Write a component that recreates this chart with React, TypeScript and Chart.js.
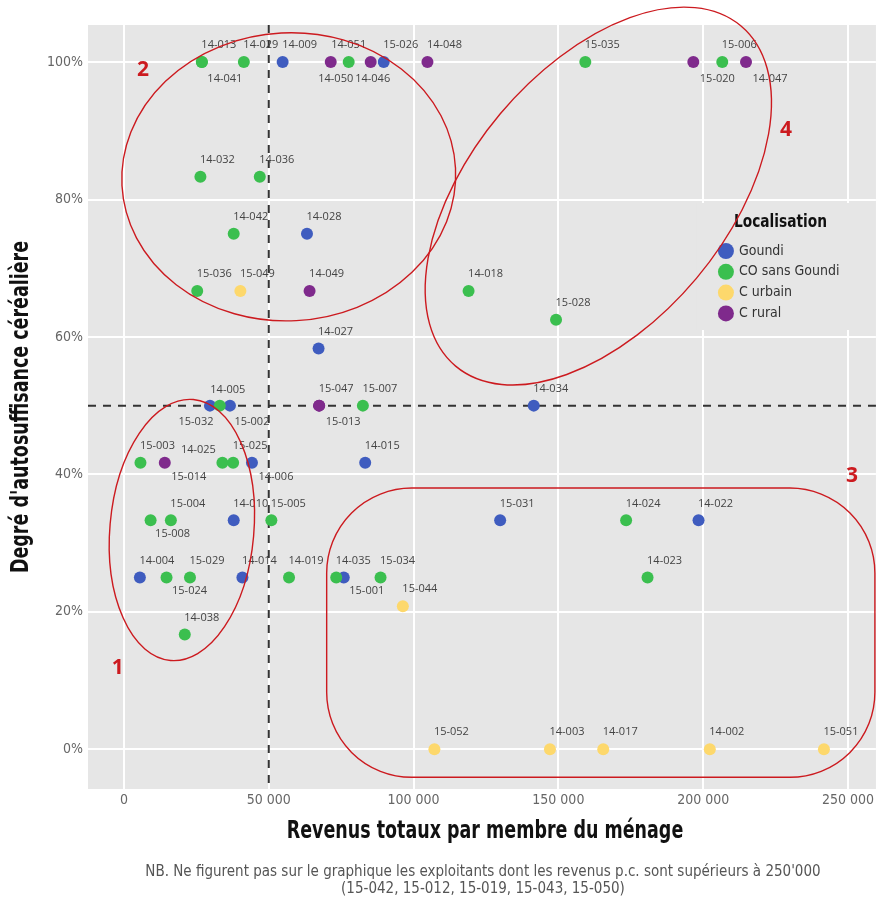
import { useEffect, useRef } from 'react';
import { Chart, registerables } from 'chart.js';

Chart.register(...registerables);

// Localisation groups and their colours
const groupNames = ['Goundi', 'CO sans Goundi', 'C urbain', 'C rural'];
const groupColors = ['#3f5cbf', '#3bbf4f', '#fdd86c', '#7f2a8c'];

// Goundi
const goundiIds = ['14-009', '15-026', '14-028', '14-027', '14-034', '15-032', '15-002', '14-006', '14-015', '14-010', '15-031', '14-022', '14-004', '14-014', '15-001'];
const goundiIncome = [54800, 89700, 63200, 67200, 141500, 29700, 36600, 44200, 83300, 37900, 129900, 198400, 5500, 40900, 75900];
const goundiShare = [100, 100, 75, 58.3, 50, 50, 50, 41.7, 41.7, 33.3, 33.3, 33.3, 25, 25, 25];

// CO sans Goundi
const coIds = ['14-013', '14-041', '14-029', '14-051', '15-035', '15-006', '14-032', '14-036', '14-042', '15-036', '14-018', '15-028', '14-005', '15-007', '15-003', '14-025', '15-025', '15-008', '15-004', '15-005', '14-024', '15-024', '15-029', '14-019', '14-035', '15-034', '14-023', '14-038'];
const coIncome = [26900, 26900, 41400, 77600, 159300, 206600, 26400, 46900, 37900, 25300, 119000, 149200, 33100, 82500, 5700, 34000, 37700, 9200, 16200, 50900, 173400, 14700, 22800, 57000, 73300, 88600, 180800, 21000];
const coShare = [100, 100, 100, 100, 100, 100, 83.3, 83.3, 75, 66.7, 66.7, 62.5, 50, 50, 41.7, 41.7, 41.7, 33.3, 33.3, 33.3, 33.3, 25, 25, 25, 25, 25, 25, 16.7];

// C urbain
const urbainIds = ['15-049', '15-044', '15-052', '14-003', '14-017', '14-002', '15-051'];
const urbainIncome = [40200, 96300, 107200, 147100, 165500, 202300, 241700];
const urbainShare = [66.7, 20.8, 0, 0, 0, 0, 0];

// C rural
const ruralIds = ['14-050', '14-046', '14-048', '15-020', '14-047', '14-049', '15-013', '15-047', '15-014'];
const ruralIncome = [71400, 85200, 104800, 196600, 214800, 64100, 67400, 67400, 14100];
const ruralShare = [100, 100, 100, 100, 100, 66.7, 50, 50, 41.7];

// Axis ticks and reference thresholds
const incomeTicks = [0, 50000, 100000, 150000, 200000, 250000];
const shareTicks = [0, 20, 40, 60, 80, 100];
const incomeThreshold = 50000;
const shareThreshold = 50;

const xTitle = 'Revenus totaux par membre du ménage';
const yTitle = "Degré d'autosuffisance céréalière";
const legendTitle = 'Localisation';

// Label offsets (px) for the ids whose label does not sit above-right of the point
const defaultNudge: [number, number] = [17, -17];
const labelNudge: Record<string, [number, number]> = {
  '14-041': [23, 17],
  '14-051': [0, -17],
  '14-050': [5, 17],
  '14-046': [2, 17],
  '15-020': [24, 17],
  '14-047': [24, 17],
  '15-032': [-14, 16],
  '15-002': [22, 16],
  '14-005': [8, -16],
  '15-013': [24, 16],
  '15-014': [24, 14],
  '14-025': [-24, -13],
  '14-006': [24, 14],
  '15-008': [22, 13],
  '15-024': [23, 13],
  '15-001': [23, 13],
};

// Red hand-drawn groupings: centre in data units, radii in px, rotation in degrees
const groupEllipses = [
  { cx: 20000, cy: 31.9, rx: 72, ry: 131, rot: 5 },
  { cx: 56900, cy: 83.3, rx: 167, ry: 144, rot: -3 },
  { cx: 163800, cy: 80.5, rx: 222, ry: 128, rot: -50 },
];
const groupBox = { x1: 70000, x2: 259300, y1: 38.0, y2: -4.1, r: 85 };
const groupNumbers = [
  { text: '1', x: -2100, y: 11.8 },
  { text: '2', x: 6600, y: 98.8 },
  { text: '3', x: 251400, y: 39.7 },
  { text: '4', x: 228600, y: 90.1 },
];

const footNote = [
  "NB. Ne figurent pas sur le graphique les exploitants dont les revenus p.c. sont supérieurs à 250'000",
  '(15-042, 15-012, 15-019, 15-043, 15-050)',
];

const COND = '"DejaVu Sans Condensed", "Liberation Sans Narrow", sans-serif';
const PANEL = '#e6e6e6';
const RED = '#cc1a1f';

function toPoints(ids: string[], xs: number[], ys: number[]) {
  return ids.map((id, i) => ({ x: xs[i], y: ys[i], id }));
}

const fmtIncome = (v: number) =>
  v === 0 ? '0' : String(v).replace(/\B(?=(\d{3})+(?!\d))/g, ' ');

// Text compressed along its own direction, for the heavy condensed headings
function squeezed(ctx: CanvasRenderingContext2D, text: string, x: number, y: number, font: string, sx: number, rot = 0, align: CanvasTextAlign = 'center') {
  ctx.save();
  ctx.translate(x, y);
  ctx.rotate(rot);
  ctx.scale(sx, 1);
  ctx.font = font;
  ctx.textAlign = align;
  ctx.textBaseline = 'middle';
  ctx.fillText(text, 0, 0);
  ctx.restore();
}

const decor = {
  id: 'decor',
  beforeDraw(chart: any) {
    const { ctx, chartArea: a } = chart;
    ctx.save();
    ctx.fillStyle = PANEL;
    ctx.fillRect(a.left, a.top, a.right - a.left, a.bottom - a.top);
    ctx.restore();
  },
  beforeDatasetsDraw(chart: any) {
    const { ctx, chartArea: a, scales } = chart;
    const { x, y } = scales;
    ctx.save();
    ctx.strokeStyle = '#333';
    ctx.lineWidth = 2;
    ctx.setLineDash([8, 7]);
    const vx = x.getPixelForValue(incomeThreshold);
    ctx.beginPath();
    ctx.moveTo(vx, a.top);
    ctx.lineTo(vx, a.bottom);
    ctx.stroke();
    const hy = y.getPixelForValue(shareThreshold);
    ctx.beginPath();
    ctx.moveTo(a.left, hy);
    ctx.lineTo(a.right, hy);
    ctx.stroke();
    ctx.setLineDash([]);

    // legend
    const lx = a.right - 179;
    const ly = a.top + 178;
    ctx.fillStyle = PANEL;
    ctx.fillRect(lx, ly, 154, 127);
    ctx.fillStyle = '#111';
    squeezed(ctx, legendTitle, lx + 37, ly + 19, `bold 18px ${COND}`, 0.85, 0, 'left');
    groupNames.forEach((name, i) => {
      const ry = ly + 48 + i * 20.8;
      ctx.fillStyle = groupColors[i];
      ctx.beginPath();
      ctx.arc(lx + 29, ry, 8, 0, Math.PI * 2);
      ctx.fill();
      ctx.fillStyle = '#333';
      ctx.font = `14px ${COND}`;
      ctx.textAlign = 'left';
      ctx.textBaseline = 'middle';
      ctx.fillText(name, lx + 42, ry);
    });
    ctx.restore();
  },
  afterDatasetsDraw(chart: any) {
    const { ctx, scales } = chart;
    const { x, y } = scales;
    ctx.save();
    // point labels
    ctx.font = '11px "Open Sans", sans-serif';
    ctx.fillStyle = '#444';
    ctx.textAlign = 'center';
    ctx.textBaseline = 'middle';
    chart.data.datasets.forEach((ds: any, di: number) => {
      const meta = chart.getDatasetMeta(di);
      meta.data.forEach((el: any, i: number) => {
        const id = ds.data[i].id;
        const [dx, dy] = labelNudge[id] || defaultNudge;
        ctx.fillText(id, el.x + dx, el.y + dy);
      });
    });

    // groupings
    ctx.strokeStyle = RED;
    ctx.lineWidth = 1.4;
    groupEllipses.forEach((e) => {
      ctx.beginPath();
      ctx.ellipse(x.getPixelForValue(e.cx), y.getPixelForValue(e.cy), e.rx, e.ry, (e.rot * Math.PI) / 180, 0, Math.PI * 2);
      ctx.stroke();
    });
    const bx1 = x.getPixelForValue(groupBox.x1);
    const bx2 = x.getPixelForValue(groupBox.x2);
    const by1 = y.getPixelForValue(groupBox.y1);
    const by2 = y.getPixelForValue(groupBox.y2);
    ctx.beginPath();
    ctx.roundRect(bx1, by1, bx2 - bx1, by2 - by1, groupBox.r);
    ctx.stroke();

    ctx.fillStyle = RED;
    ctx.font = 'bold 21px "Open Sans", sans-serif';
    groupNumbers.forEach((n) => {
      ctx.fillText(n.text, x.getPixelForValue(n.x), y.getPixelForValue(n.y));
    });
    ctx.restore();
  },
  afterDraw(chart: any) {
    const { ctx, chartArea: a } = chart;
    ctx.save();
    const cx = (a.left + a.right) / 2 + 3;
    // axis titles
    ctx.fillStyle = '#111';
    squeezed(ctx, xTitle, cx, 832, `bold 24px ${COND}`, 0.81);
    squeezed(ctx, yTitle, 22, (a.top + a.bottom) / 2, `bold 24px ${COND}`, 0.81, -Math.PI / 2);
    // footnote
    ctx.fillStyle = '#555';
    ctx.font = `15px ${COND}`;
    ctx.textAlign = 'center';
    ctx.textBaseline = 'middle';
    footNote.forEach((line, i) => ctx.fillText(line, cx - 2, 872 + i * 17));
    ctx.restore();
  },
};

export default function App() {
  const ref = useRef<HTMLCanvasElement>(null);

  useEffect(() => {
    const canvas = ref.current;
    if (!canvas) return;
    const chart = new Chart(canvas, {
      type: 'scatter',
      data: {
        datasets: [
          { label: groupNames[1], data: toPoints(coIds, coIncome, coShare), backgroundColor: groupColors[1] },
          { label: groupNames[2], data: toPoints(urbainIds, urbainIncome, urbainShare), backgroundColor: groupColors[2] },
          { label: groupNames[3], data: toPoints(ruralIds, ruralIncome, ruralShare), backgroundColor: groupColors[3] },
          { label: groupNames[0], data: toPoints(goundiIds, goundiIncome, goundiShare), backgroundColor: groupColors[0] },
        ],
      },
      options: {
        animation: false,
        responsive: false,
        devicePixelRatio: 1,
        events: [],
        layout: { autoPadding: false, padding: { left: 0, right: 0, top: 25, bottom: 54 } },
        elements: { point: { radius: 6, borderWidth: 0, hoverRadius: 6 } },
        plugins: { legend: { display: false }, tooltip: { enabled: false } },
        scales: {
          x: {
            type: 'linear',
            min: -12414,
            max: 259655,
            afterBuildTicks: (s: any) => { s.ticks = incomeTicks.map((v) => ({ value: v })); },
            afterFit: (s: any) => { s.height = 59; },
            grid: { color: '#ffffff', lineWidth: 2, drawTicks: false },
            border: { display: false },
            ticks: {
              padding: 3,
              color: '#666',
              font: { family: COND, size: 14 },
              callback: (v: any) => fmtIncome(Number(v)),
              maxRotation: 0,
            },
          },
          y: {
            type: 'linear',
            min: -5.8,
            max: 105.4,
            afterBuildTicks: (s: any) => { s.ticks = shareTicks.map((v) => ({ value: v })); },
            afterFit: (s: any) => { s.width = 88; },
            grid: { color: '#ffffff', lineWidth: 2, drawTicks: false },
            border: { display: false },
            ticks: {
              padding: 5,
              color: '#666',
              font: { family: COND, size: 14 },
              callback: (v: any) => `${v}%`,
            },
          },
        },
      },
      plugins: [decor],
    });
    return () => chart.destroy();
  }, []);

  return (
    <div style={{ position: 'fixed', left: 0, top: 0, width: 877, height: 902, background: '#fff' }}>
      <canvas ref={ref} width={877} height={902} style={{ display: 'block' }} />
    </div>
  );
}
